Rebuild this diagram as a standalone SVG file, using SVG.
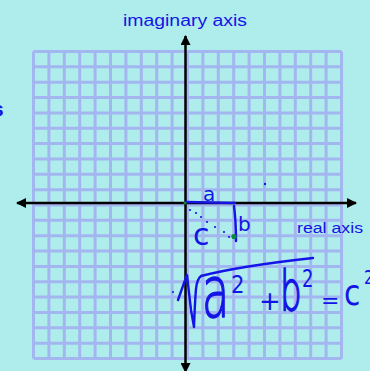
<svg xmlns="http://www.w3.org/2000/svg" width="370" height="371" viewBox="0 0 370 371">
<defs>
<style>
.grid{stroke:#a3b6ef;stroke-width:3;fill:none}
.axis{stroke:#000;stroke-width:2.5;fill:none}
.ink{stroke:#1414e6;stroke-width:2.4;fill:none;stroke-linecap:round;stroke-linejoin:round}
.lbl{font-family:"Liberation Sans","DejaVu Sans",sans-serif;fill:#1414e6}
.hw{font-family:"DejaVu Sans","Liberation Sans",sans-serif;fill:#1414e6}
.thin{font-weight:200;stroke:#1414e6;stroke-width:1.6;stroke-linejoin:round}
.dot{fill:#1414e6}
</style>
<marker id="ah" viewBox="0 0 10 10" refX="9" refY="5" markerWidth="4" markerHeight="4" orient="auto-start-reverse" markerUnits="strokeWidth">
<path d="M0,0 L10,5 L0,10 z" fill="#000"/>
</marker>
</defs>
<rect width="370" height="371" fill="#afeded"/>
<g id="grid" class="grid">
<path d="M33.5,51.5V358.5M48.9,51.5V358.5M64.3,51.5V358.5M79.7,51.5V358.5M95.1,51.5V358.5M110.5,51.5V358.5M125.9,51.5V358.5M141.3,51.5V358.5M156.7,51.5V358.5M172.1,51.5V358.5M187.5,51.5V358.5M202.9,51.5V358.5M218.3,51.5V358.5M233.7,51.5V358.5M249.1,51.5V358.5M264.5,51.5V358.5M279.9,51.5V358.5M295.3,51.5V358.5M310.7,51.5V358.5M326.1,51.5V358.5M341.5,51.5V358.5"/>
<path d="M33.5,51.5H341.5M33.5,66.85H341.5M33.5,82.2H341.5M33.5,97.55H341.5M33.5,112.9H341.5M33.5,128.25H341.5M33.5,143.6H341.5M33.5,158.95H341.5M33.5,174.3H341.5M33.5,189.65H341.5M33.5,205H341.5M33.5,220.35H341.5M33.5,235.7H341.5M33.5,251.05H341.5M33.5,266.4H341.5M33.5,281.75H341.5M33.5,297.1H341.5M33.5,312.45H341.5M33.5,327.8H341.5M33.5,343.15H341.5M33.5,358.5H341.5"/>
</g>
<g id="axes">
<line class="axis" x1="185.5" y1="372" x2="185.5" y2="36" marker-start="url(#ah)" marker-end="url(#ah)"/>
<line class="axis" x1="17" y1="203" x2="356" y2="203" marker-start="url(#ah)" marker-end="url(#ah)"/>
</g>
<g id="labels">
<text class="lbl" x="185" y="26" font-size="16" text-anchor="middle" textLength="124" lengthAdjust="spacingAndGlyphs">imaginary axis</text>
<text class="lbl" x="297" y="233" font-size="14" textLength="66" lengthAdjust="spacingAndGlyphs">real axis</text>
<text class="lbl" x="-8" y="116" font-size="21" font-weight="bold">s</text>
</g>
<g id="triangle">
<path class="ink" d="M186,202 L235,203"/>
<path class="ink" d="M234,206 Q236,222 236,241"/>
<text class="hw" x="203" y="201" font-size="20">a</text>
<text class="hw" x="238" y="231" font-size="20">b</text>
<text class="hw" x="193" y="245" font-size="30">c</text>
<g class="dot">
<circle cx="190" cy="210" r="1.1"/><circle cx="196" cy="213" r="1.1"/><circle cx="201" cy="217" r="1.1"/><circle cx="207" cy="222" r="1.1"/><circle cx="215" cy="227" r="1.1"/><circle cx="224" cy="232" r="1.1"/><circle cx="229" cy="237" r="1.1"/>
<circle cx="265" cy="184" r="1.2"/>
<circle cx="173" cy="292" r="1"/>
</g>
<circle cx="234" cy="236.5" r="2.6" fill="#0a8a3a"/>
<circle cx="185" cy="203" r="1.6" fill="#0a8a3a"/>
</g>
<g id="formula">
<path class="ink" d="M178,300 L184,283 L187,275 Q189,292 191,310 L194,327 Q195,300 196,289 Q197,279 201,276 Q240,266 313,258"/>
<text class="hw thin" transform="translate(202,317) scale(0.62,1)" font-size="72">a</text>
<text class="hw" transform="translate(231,293) scale(0.85,1)" font-size="25">2</text>
<text class="hw" x="259" y="310" font-size="26">+</text>
<text class="hw thin" transform="translate(280,310) scale(0.62,1)" font-size="55">b</text>
<text class="hw" transform="translate(302,287) scale(0.75,1)" font-size="24">2</text>
<text class="hw" x="321" y="308" font-size="22">=</text>
<text class="hw" transform="translate(344,305) scale(0.85,1)" font-size="35">c</text>
<text class="hw" transform="translate(364,284) scale(0.75,1)" font-size="20">2</text>
</g>
</svg>
